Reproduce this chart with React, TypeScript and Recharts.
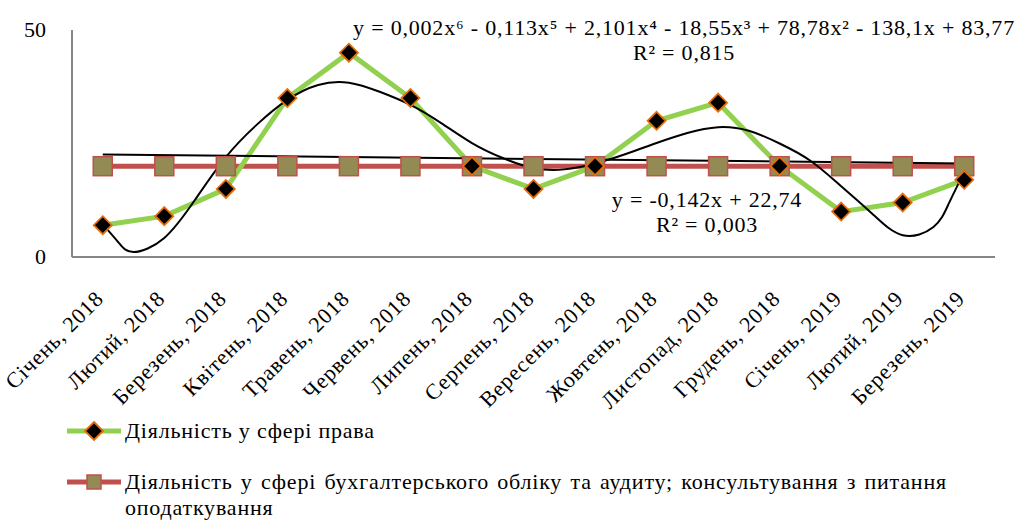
import React from "react";
import { Line, LineChart, XAxis, YAxis } from "recharts";

if (typeof document !== "undefined") document.body.style.margin = "0";

const months = [
  "Січень, 2018",
  "Лютий, 2018",
  "Березень, 2018",
  "Квітень, 2018",
  "Травень, 2018",
  "Червень, 2018",
  "Липень, 2018",
  "Серпень, 2018",
  "Вересень, 2018",
  "Жовтень, 2018",
  "Листопад, 2018",
  "Грудень, 2018",
  "Січень, 2019",
  "Лютий, 2019",
  "Березень, 2019"
];
const monthIndex = [1, 2, 3, 4, 5, 6, 7, 8, 9, 10, 11, 12, 13, 14, 15];
const lawValues = [7, 9, 15, 35, 45, 35, 20, 15, 20, 30, 34, 20, 10, 12, 17];
const accountingValues = [20, 20, 20, 20, 20, 20, 20, 20, 20, 20, 20, 20, 20, 20, 20];

// 6th-degree trend
const polyX = [1, 1.25, 1.5, 2, 2.5, 3, 3.5, 4, 4.5, 5, 5.5, 6, 6.5, 7, 7.5, 8, 8.5, 9, 9.5, 10, 10.5, 11, 11.5, 12, 12.5, 13, 13.5, 14, 14.5, 14.75, 15];
const polyY = [7.2, 3.3, 1.1, 4.2, 12.6, 22, 29.1, 34.6, 37.9, 38.4, 36.4, 33.5, 29.5, 25.1, 21.8, 19.6, 19.3, 20.6, 22.7, 25.1, 27.3, 28.6, 27.8, 25, 21.2, 15.6, 9.6, 4.8, 6.6, 11.8, 18.7];
// linear trend end points
const linearX = [1, 15];
const linearY = [22.6, 20.6];
const yTicks = [0, 50];

const data = monthIndex.map((x, i) => ({ x, law: lawValues[i], accounting: accountingValues[i] }));
const polyData = polyX.map((x, i) => ({ x, poly: polyY[i] }));
const linearData = linearX.map((x, i) => ({ x, linear: linearY[i] }));

const FONT = '"Liberation Serif", Tinos, "Times New Roman", "DejaVu Serif", serif';

const Diamond = ({ cx, cy }: any) => {
  if (cx == null || cy == null) return null;
  return (
    <path
      d={`M${cx},${cy - 9} L${cx + 9},${cy} L${cx},${cy + 9} L${cx - 9},${cy} Z`}
      fill="#000"
      stroke="#E46C0A"
      strokeWidth={1.8}
    />
  );
};

const Square = ({ cx, cy }: any) => {
  if (cx == null || cy == null) return null;
  return <rect x={cx - 9.5} y={cy - 9.5} width={19} height={19} fill="#948A54" stroke="#C0504D" strokeWidth={1.5} />;
};

const MonthTick = ({ x, y, payload }: any) => (
  <text
    x={x + 2}
    y={y + 41}
    transform={`rotate(-45, ${x + 2}, ${y + 41})`}
    textAnchor="end"
    style={{ fontFamily: FONT, letterSpacing: 0.8 }}
    fontSize={22}
    fill="#000"
  >
    {months[payload.value - 1]}
  </text>
);

const ValueTick = ({ x, y, payload }: any) => (
  <text x={x - 24} y={y + 7} textAnchor="end" style={{ fontFamily: FONT }} fontSize={22} fill="#000">
    {payload.value}
  </text>
);

const textStyle: React.CSSProperties = {
  position: "absolute",
  fontFamily: FONT,
  fontSize: 22,
  letterSpacing: 0.8,
  lineHeight: "25px",
  textAlign: "center",
  whiteSpace: "nowrap",
  color: "#000",
  transform: "translateX(-50%)"
};

export default function App() {
  return (
    <div style={{ position: "relative", width: 1020, height: 521, background: "#fff" }}>
      <LineChart width={1020} height={521} data={data} margin={{ top: 30, right: 25, bottom: 0, left: 0 }}>
        <XAxis
          dataKey="x"
          type="number"
          domain={[0.5, 15.5]}
          ticks={monthIndex}
          interval={0}
          height={264}
          tick={<MonthTick />}
          tickLine={false}
          tickSize={0}
          axisLine={{ stroke: "#868686", strokeWidth: 2 }}
        />
        <YAxis
          width={72}
          domain={[0, 50]}
          ticks={yTicks}
          tick={<ValueTick />}
          tickLine={false}
          tickSize={0}
          axisLine={{ stroke: "#868686", strokeWidth: 2 }}
        />
        <Line
          dataKey="accounting"
          stroke="#C0504D"
          strokeWidth={5}
          dot={<Square />}
          isAnimationActive={false}
          type="linear"
        />
        <Line
          dataKey="law"
          stroke="#92D050"
          strokeWidth={5}
          dot={<Diamond />}
          isAnimationActive={false}
          type="linear"
        />
        <Line
          data={polyData}
          dataKey="poly"
          stroke="#000"
          strokeWidth={2}
          dot={false}
          isAnimationActive={false}
          type="natural"
        />
        <Line
          data={linearData}
          dataKey="linear"
          stroke="#000"
          strokeWidth={2}
          dot={false}
          isAnimationActive={false}
          type="linear"
        />
      </LineChart>

      <div style={{ ...textStyle, left: 684, top: 15 }}>
        y = 0,002x⁶ - 0,113x⁵ + 2,101x⁴ - 18,55x³ + 78,78x² - 138,1x + 83,77
        <br />R² = 0,815
      </div>
      <div style={{ ...textStyle, left: 707, top: 187 }}>
        y = -0,142x + 22,74
        <br />R² = 0,003
      </div>

      <div
        style={{
          position: "absolute",
          left: 67,
          top: 418,
          fontFamily: FONT,
          fontSize: 22,
          letterSpacing: 0.8,
          color: "#000"
        }}
      >
        <div style={{ display: "flex", alignItems: "center", height: 26 }}>
          <svg width={56} height={20} style={{ flex: "none" }}>
            <line x1={0} y1={10} x2={54} y2={10} stroke="#92D050" strokeWidth={5} />
            <Diamond cx={27} cy={10} />
          </svg>
          <span style={{ marginLeft: 2 }}>Діяльність у сфері права</span>
        </div>
        <div style={{ display: "flex", alignItems: "flex-start", marginTop: 25 }}>
          <svg width={56} height={26} style={{ flex: "none" }}>
            <line x1={0} y1={13} x2={54} y2={13} stroke="#C0504D" strokeWidth={5} />
            <rect x={20} y={6} width={14} height={14} fill="#948A54" stroke="#C0504D" strokeWidth={1.5} />
          </svg>
          <span style={{ marginLeft: 2, lineHeight: "26px", wordSpacing: 2, whiteSpace: "nowrap" }}>
            Діяльність у сфері бухгалтерського обліку та аудиту; консультування з питання
            <br />
            оподаткування
          </span>
        </div>
      </div>
    </div>
  );
}
